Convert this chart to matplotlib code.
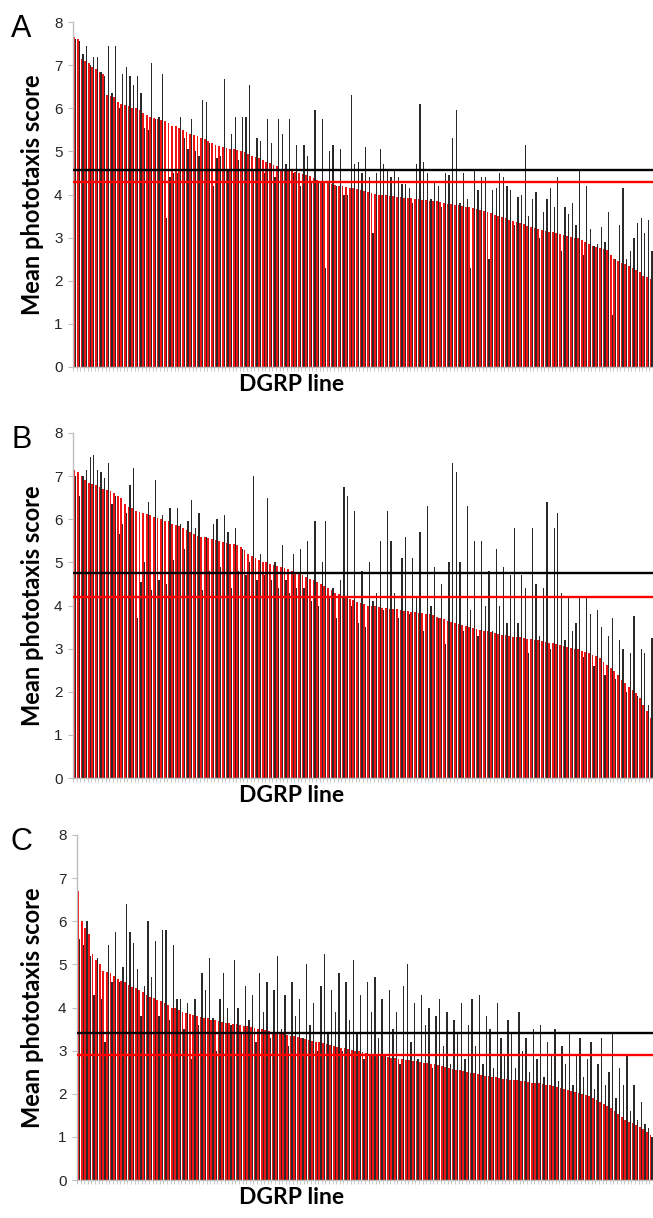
import numpy as np
import matplotlib
matplotlib.use("Agg")
import matplotlib.pyplot as plt

plt.rcParams['font.family'] = ['Liberation Sans', 'DejaVu Sans']

# panel A: red = sorted line means, black = the other sex, same line
red_a = [7.65, 7.6, 7.15, 7.1, 7.05, 6.95, 6.9, 6.85, 6.8, 6.3, 6.28, 6.25, 6.15, 6.1, 6.08, 6.05,
         6.0, 6.0, 5.95, 5.9, 5.85, 5.8, 5.78, 5.75, 5.72, 5.7, 5.65, 5.6, 5.58, 5.55, 5.5, 5.45,
         5.4, 5.38, 5.35, 5.3, 5.28, 5.25, 5.2, 5.15, 5.12, 5.1, 5.08, 5.06, 5.05, 5.03, 5.0, 4.98,
         4.95, 4.9, 4.87, 4.84, 4.8, 4.76, 4.72, 4.68, 4.65, 4.6, 4.58, 4.56, 4.54, 4.52, 4.5, 4.48,
         4.45, 4.42, 4.38, 4.34, 4.3, 4.28, 4.26, 4.24, 4.22, 4.2, 4.19, 4.18, 4.16, 4.14, 4.12, 4.1,
         4.08, 4.06, 4.04, 4.02, 4.0, 3.99, 3.98, 3.97, 3.96, 3.95, 3.94, 3.93, 3.92, 3.91, 3.9, 3.89,
         3.88, 3.87, 3.86, 3.85, 3.84, 3.83, 3.81, 3.79, 3.78, 3.76, 3.75, 3.74, 3.72, 3.7, 3.68, 3.66,
         3.65, 3.62, 3.59, 3.56, 3.53, 3.5, 3.48, 3.45, 3.42, 3.39, 3.36, 3.34, 3.31, 3.28, 3.25, 3.22,
         3.2, 3.18, 3.16, 3.14, 3.12, 3.1, 3.08, 3.06, 3.04, 3.02, 3.0, 2.98, 2.95, 2.9, 2.85, 2.8,
         2.78, 2.76, 2.74, 2.72, 2.6, 2.5, 2.45, 2.42, 2.38, 2.34, 2.3, 2.26, 2.2, 2.12, 2.08, 2.05]
black_a = [7.6, 7.55, 7.25, 7.45, 7.0, 7.2, 7.2, 6.85, 6.75, 7.45, 6.35, 7.45, 6.0, 6.8, 6.95, 6.75,
           6.55, 6.75, 6.35, 5.55, 5.5, 7.05, 5.75, 5.8, 6.8, 3.45, 4.4, 4.5, 4.5, 5.8, 5.3, 5.05,
           5.75, 5.0, 4.9, 6.2, 6.15, 5.2, 4.2, 4.85, 4.9, 6.68, 4.6, 5.4, 5.8, 4.8, 5.8, 5.8,
           6.55, 4.6, 5.3, 5.25, 4.5, 5.75, 5.2, 4.4, 5.75, 5.4, 4.7, 5.75, 4.5, 5.15, 4.2, 5.15,
           4.9, 4.3, 5.95, 4.3, 5.75, 2.3, 5.0, 5.15, 4.2, 5.05, 4.0, 4.0, 6.3, 4.7, 4.75, 4.5,
           5.1, 4.4, 3.1, 4.5, 5.05, 4.7, 4.55, 4.4, 4.6, 4.4, 4.25, 4.25, 4.15, 3.8, 4.7, 6.1,
           4.75, 4.5, 3.9, 4.3, 4.2, 3.7, 4.5, 4.45, 5.3, 5.95, 3.8, 4.5, 3.9, 2.3, 4.55, 4.1,
           4.4, 4.4, 2.5, 4.1, 4.15, 4.5, 4.4, 4.2, 4.1, 3.3, 3.95, 4.0, 5.15, 3.5, 3.9, 4.05,
           3.0, 3.6, 3.9, 4.15, 3.7, 4.4, 2.7, 3.7, 3.55, 3.8, 3.3, 4.55, 2.6, 4.2, 3.2, 2.8,
           2.85, 3.25, 2.9, 3.6, 1.2, 2.5, 3.3, 4.15, 2.5, 2.7, 3.0, 3.35, 3.45, 3.1, 3.4, 2.7]

red_b = [7.15, 7.1, 7.0, 6.9, 6.85, 6.82, 6.8, 6.75, 6.7, 6.68, 6.65, 6.6, 6.55, 6.5, 6.35, 6.28,
         6.25, 6.2, 6.17, 6.15, 6.12, 6.1, 6.05, 6.03, 6.0, 5.97, 5.95, 5.9, 5.87, 5.85, 5.8, 5.75,
         5.7, 5.65, 5.62, 5.6, 5.58, 5.56, 5.55, 5.52, 5.5, 5.47, 5.45, 5.43, 5.42, 5.4, 5.35, 5.28,
         5.2, 5.15, 5.1, 5.05, 5.02, 5.0, 4.97, 4.95, 4.92, 4.9, 4.87, 4.84, 4.8, 4.77, 4.74, 4.7,
         4.66, 4.62, 4.58, 4.54, 4.5, 4.45, 4.4, 4.35, 4.3, 4.26, 4.22, 4.19, 4.15, 4.12, 4.09, 4.06,
         4.03, 4.0, 3.99, 3.98, 3.96, 3.95, 3.94, 3.93, 3.92, 3.91, 3.9, 3.88, 3.87, 3.85, 3.84, 3.83,
         3.82, 3.81, 3.8, 3.77, 3.74, 3.71, 3.68, 3.65, 3.62, 3.6, 3.58, 3.55, 3.52, 3.5, 3.48, 3.46,
         3.44, 3.42, 3.4, 3.38, 3.36, 3.34, 3.32, 3.31, 3.3, 3.28, 3.27, 3.26, 3.24, 3.23, 3.22, 3.21,
         3.2, 3.18, 3.16, 3.14, 3.12, 3.1, 3.08, 3.06, 3.04, 3.02, 3.0, 2.98, 2.95, 2.92, 2.9, 2.86,
         2.82, 2.78, 2.7, 2.62, 2.55, 2.48, 2.38, 2.28, 2.2, 2.12, 2.05, 1.98, 1.85, 1.7, 1.55, 1.38]
black_b = [7.0, 6.55, 7.0, 7.15, 7.45, 7.5, 7.15, 7.1, 6.95, 7.3, 6.35, 6.55, 5.65, 5.9, 6.15, 6.8,
           7.2, 3.7, 4.55, 5.0, 6.4, 4.35, 6.9, 4.6, 6.1, 4.5, 6.25, 5.05, 6.25, 5.9, 5.3, 5.95,
           6.45, 5.8, 6.15, 4.35, 5.6, 4.8, 5.9, 6.0, 4.9, 6.1, 5.7, 4.4, 5.8, 4.8, 5.3, 4.7,
           5.0, 7.0, 4.6, 5.2, 4.7, 6.5, 4.6, 5.0, 4.4, 5.4, 4.6, 4.3, 5.2, 4.4, 5.3, 4.4,
           5.5, 4.1, 5.95, 4.0, 5.0, 5.95, 4.2, 4.4, 3.7, 4.6, 6.75, 6.55, 4.0, 6.2, 3.6, 4.8,
           3.5, 5.0, 4.1, 4.3, 5.5, 3.9, 6.2, 5.5, 4.3, 3.7, 5.1, 5.6, 3.8, 5.1, 4.2, 5.7,
           3.4, 6.3, 4.0, 4.9, 3.7, 4.5, 3.1, 5.0, 7.3, 7.1, 5.0, 3.4, 6.3, 3.9, 5.5, 3.3,
           5.5, 4.0, 4.8, 3.4, 5.3, 4.0, 4.9, 3.6, 4.7, 5.8, 3.6, 4.7, 4.4, 2.9, 5.8, 4.5,
           3.3, 4.4, 6.4, 3.0, 5.8, 6.15, 4.3, 3.2, 4.2, 3.4, 3.6, 4.2, 2.8, 4.2, 3.8, 2.6,
           3.9, 3.5, 2.4, 3.3, 3.7, 2.3, 3.2, 3.0, 2.0, 2.9, 3.75, 1.9, 3.0, 2.9, 1.7, 3.25]

red_c = [6.7, 6.0, 5.85, 5.7, 5.25, 5.1, 5.0, 4.85, 4.82, 4.8, 4.72, 4.65, 4.62, 4.6, 4.52, 4.48,
         4.45, 4.4, 4.35, 4.3, 4.25, 4.22, 4.18, 4.15, 4.1, 4.05, 4.0, 3.98, 3.94, 3.9, 3.87, 3.85,
         3.82, 3.8, 3.78, 3.76, 3.75, 3.72, 3.7, 3.68, 3.66, 3.65, 3.63, 3.62, 3.61, 3.6, 3.58, 3.56,
         3.55, 3.53, 3.51, 3.5, 3.48, 3.46, 3.44, 3.42, 3.4, 3.38, 3.36, 3.35, 3.33, 3.31, 3.29, 3.27,
         3.25, 3.23, 3.21, 3.2, 3.18, 3.16, 3.13, 3.11, 3.09, 3.07, 3.05, 3.03, 3.01, 2.99, 2.98, 2.96,
         2.94, 2.92, 2.91, 2.9, 2.88, 2.87, 2.86, 2.84, 2.82, 2.81, 2.8, 2.79, 2.78, 2.76, 2.75, 2.74,
         2.72, 2.71, 2.7, 2.68, 2.66, 2.64, 2.62, 2.6, 2.58, 2.56, 2.55, 2.53, 2.51, 2.49, 2.47, 2.45,
         2.44, 2.42, 2.41, 2.4, 2.38, 2.37, 2.35, 2.34, 2.33, 2.32, 2.31, 2.3, 2.29, 2.27, 2.26, 2.25,
         2.24, 2.22, 2.21, 2.2, 2.18, 2.16, 2.14, 2.12, 2.09, 2.07, 2.05, 2.02, 2.0, 1.97, 1.94, 1.9,
         1.86, 1.82, 1.77, 1.72, 1.68, 1.6, 1.52, 1.46, 1.4, 1.35, 1.32, 1.28, 1.24, 1.18, 1.12, 1.05]
black_c = [5.6, 5.45, 6.0, 5.2, 4.3, 5.15, 4.2, 3.2, 5.45, 4.6, 5.75, 4.6, 4.95, 6.4, 5.75, 5.5,
           4.9, 3.8, 4.5, 6.0, 4.7, 5.55, 3.8, 5.8, 5.8, 3.7, 5.45, 4.2, 4.2, 3.5, 4.1, 2.8,
           4.2, 3.6, 4.8, 4.4, 5.15, 3.75, 3.0, 4.2, 4.8, 4.0, 3.6, 5.1, 4.0, 3.4, 4.5, 3.7,
           4.3, 3.2, 4.8, 3.9, 4.6, 3.3, 4.4, 5.2, 3.5, 4.3, 3.1, 4.6, 3.8, 4.2, 3.3, 5.0,
           3.6, 4.1, 3.0, 4.5, 5.25, 3.4, 4.4, 3.9, 4.8, 3.0, 4.6, 3.7, 5.1, 3.4, 4.3, 2.8,
           4.6, 3.9, 4.7, 3.3, 4.2, 2.9, 4.4, 3.5, 3.9, 2.7, 4.5, 5.0, 3.2, 4.1, 2.8, 4.3,
           3.6, 4.0, 2.6, 3.8, 4.2, 3.1, 3.9, 2.7, 3.7, 3.4, 4.1, 2.8, 3.6, 4.2, 3.1, 4.3,
           2.7, 3.8, 3.5, 2.6, 4.1, 3.3, 2.9, 3.7, 3.4, 2.6, 3.9, 3.0, 3.3, 2.5, 3.5, 2.8,
           3.6, 2.4, 3.2, 2.9, 3.5, 2.3, 3.1, 2.7, 3.4, 2.2, 2.9, 3.3, 2.4, 2.8, 3.2, 2.1,
           2.7, 3.3, 2.2, 2.5, 3.4, 1.9, 2.6, 2.2, 2.9, 1.6, 2.2, 1.4, 1.8, 1.3, 1.2, 1.0]

# overall means (horizontal lines)
mean_black = [4.57, 4.75, 3.4]
mean_red = [4.3, 4.2, 2.9]
letters = ['A', 'B', 'C']

fig = plt.figure(figsize=(6.53, 12.18), dpi=100)
H = 1218.0
W = 653.0

# (left px, top px, bottom px) of each plot area
boxes = [(73, 22, 367), (73, 433, 778), (77, 835, 1180)]
reds = [red_a, red_b, red_c]
blacks = [black_a, black_b, black_c]

for k in range(3):
    left, top, bot = boxes[k]
    ax = fig.add_axes([left / W, 1 - bot / H, (W - left) / W, (bot - top) / H])
    r = np.array(reds[k])
    b = np.array(blacks[k])
    x = np.arange(len(r))
    ax.bar(x - 0.18, r, width=0.5, color='#f01414', linewidth=0, zorder=2)
    ax.bar(x + 0.24, b, width=0.36, color='#2a2a2a', linewidth=0, zorder=2)
    ax.axhline(mean_black[k], color='black', lw=1.7, zorder=3)
    ax.axhline(mean_red[k], color='#ff0000', lw=1.7, zorder=3)

    ax.set_xlim(-0.5, len(r) - 0.5)
    ax.set_ylim(0, 8)
    ax.set_yticks(range(9))
    ax.set_xticks(np.arange(len(r)) - 0.5)
    ax.set_xticklabels([])
    for s in ['top', 'right']:
        ax.spines[s].set_visible(False)
    for s in ['left', 'bottom']:
        ax.spines[s].set_color('#bfbfbf')
        ax.spines[s].set_linewidth(1.0)
    ax.tick_params(axis='y', colors='#bfbfbf', labelcolor='#262626', labelsize=11,
                   length=3.5, pad=4)
    ax.tick_params(axis='x', colors='#bfbfbf', length=3, width=0.6)

    yc = (top + bot) / 2
    fig.text(33 / W, 1 - yc / H, 'Mean phototaxis score', rotation=90, ha='center', va='center',
             fontsize=17, fontweight='bold', family=['Lato', 'DejaVu Sans'])
    fig.text(292 / W, 1 - (bot + 17) / H, 'DGRP line', ha='center', va='center',
             fontsize=16.5, fontweight='bold', family=['Lato', 'DejaVu Sans'])
    fig.text(11 / W, 1 - (top + 7) / H, letters[k], ha='left', va='center', fontsize=22)

fig.savefig('out.png', dpi=100)
